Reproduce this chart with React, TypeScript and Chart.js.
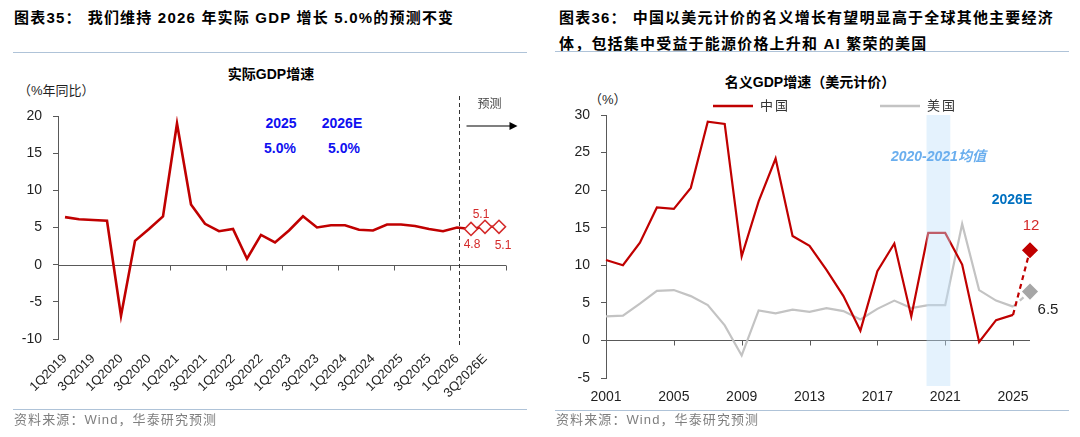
import React, { useEffect, useRef } from 'react';
import { Chart, registerables } from 'chart.js';

Chart.register(...registerables);

const FONT = "'Liberation Sans', Arial, 'Noto Sans CJK SC', sans-serif";

// ---------- Left chart data: real GDP growth (% yoy) ----------
const quarterLabels = [
  '1Q2019', '2Q2019', '3Q2019', '4Q2019',
  '1Q2020', '2Q2020', '3Q2020', '4Q2020',
  '1Q2021', '2Q2021', '3Q2021', '4Q2021',
  '1Q2022', '2Q2022', '3Q2022', '4Q2022',
  '1Q2023', '2Q2023', '3Q2023', '4Q2023',
  '1Q2024', '2Q2024', '3Q2024', '4Q2024',
  '1Q2025', '2Q2025', '3Q2025', '4Q2025',
  '1Q2026', '2Q2026E', '3Q2026E', '4Q2026E',
];
const realGdpGrowth = [
  6.4, 6.1, 6.0, 5.9,
  -6.9, 3.2, 4.8, 6.5,
  19.0, 8.1, 5.5, 4.5,
  4.8, 0.8, 4.0, 3.0,
  4.6, 6.5, 5.0, 5.3,
  5.3, 4.7, 4.6, 5.4,
  5.4, 5.2, 4.8, 4.5,
  5.0, 4.8, 5.1, 5.1,
];
const firstForecastIndex = 29;
const forecastDivider = 28.15;
const annualLabels = ['2025', '2026E'];
const annualGrowth = [5.0, 5.0];

// ---------- Right chart data: nominal GDP growth in USD (%) ----------
const years = [
  '2001', '2002', '2003', '2004', '2005', '2006', '2007', '2008', '2009', '2010',
  '2011', '2012', '2013', '2014', '2015', '2016', '2017', '2018', '2019', '2020',
  '2021', '2022', '2023', '2024', '2025', '2026E',
];
const chinaNominalUsd = [
  10.7, 10.0, 13.0, 17.7, 17.5, 20.3, 29.1, 28.8, 11.2, 18.5,
  24.2, 13.9, 12.6, 9.4, 5.9, 1.3, 9.2, 12.9, 3.2, 14.3,
  14.3, 10.1, -0.2, 2.7, 3.4, 12.0,
];
const usNominalUsd = [
  3.2, 3.3, 4.9, 6.6, 6.7, 5.9, 4.7, 2.0, -2.0, 4.0,
  3.6, 4.1, 3.8, 4.3, 3.9, 2.8, 4.2, 5.3, 4.3, 4.7,
  4.7, 15.5, 6.7, 5.3, 4.5, 6.5,
];
const seriesNames = ['中国', '美国'];
const bandRange = [18.9, 20.3];
const bandLabel = '2020-2021均值';

const RED = '#C00000';
const GRAY = '#C3C3C3';
const AXIS = '#595959';
const TICK_TEXT = '#1f1f1f';

const leftDecor = {
  id: 'leftDecor',
  beforeDatasetsDraw(chart: any) {
    const { ctx, chartArea: a, scales } = chart;
    const x = scales.x;
    const y = scales.y;
    const y0 = Math.round(y.getPixelForValue(0)) + 0.5;
    ctx.save();
    ctx.strokeStyle = AXIS;
    ctx.lineWidth = 1;
    ctx.beginPath();
    ctx.moveTo(a.left, y0);
    ctx.lineTo(a.right, y0);
    for (let i = 0; i <= quarterLabels.length; i += 4) {
      const px = Math.round(x.getPixelForValue(i - 0.5)) + 0.5;
      ctx.moveTo(px, y0);
      ctx.lineTo(px, y0 + 5);
    }
    ctx.stroke();

    const dx = Math.round(x.getPixelForValue(forecastDivider)) + 0.5;
    ctx.strokeStyle = '#333';
    ctx.setLineDash([4, 3]);
    ctx.beginPath();
    ctx.moveTo(dx, a.top - 20);
    ctx.lineTo(dx, a.bottom + 6);
    ctx.stroke();
    ctx.setLineDash([]);

    const ay = a.top + 10;
    ctx.strokeStyle = '#000';
    ctx.lineWidth = 1.2;
    ctx.beginPath();
    ctx.moveTo(dx + 7, ay);
    ctx.lineTo(dx + 51, ay);
    ctx.stroke();
    ctx.fillStyle = '#000';
    ctx.beginPath();
    ctx.moveTo(dx + 58, ay);
    ctx.lineTo(dx + 50, ay - 4);
    ctx.lineTo(dx + 50, ay + 4);
    ctx.closePath();
    ctx.fill();

    ctx.font = `12px ${FONT}`;
    ctx.fillStyle = '#444';
    ctx.textAlign = 'left';
    ctx.textBaseline = 'middle';
    ctx.fillText('预测', dx + 18, a.top - 11);
    ctx.restore();
  },
  afterDatasetsDraw(chart: any) {
    const { ctx } = chart;
    const pts = chart.getDatasetMeta(0).data;
    const offsets = [[1, 16], [-4, -12], [4, 19]];
    ctx.save();
    ctx.font = `12px ${FONT}`;
    ctx.fillStyle = '#D42A2A';
    ctx.textAlign = 'center';
    ctx.textBaseline = 'middle';
    for (let i = firstForecastIndex; i < realGdpGrowth.length; i++) {
      const p = pts[i];
      const o = offsets[i - firstForecastIndex];
      ctx.fillText(realGdpGrowth[i].toFixed(1), p.x + o[0], p.y + o[1]);
    }
    ctx.restore();
  },
};

const rightDecor = {
  id: 'rightDecor',
  beforeDatasetsDraw(chart: any) {
    const { ctx, chartArea: a, scales } = chart;
    const x = scales.x;
    const y = scales.y;
    const y0 = Math.round(y.getPixelForValue(0)) + 0.5;
    ctx.save();
    ctx.strokeStyle = AXIS;
    ctx.lineWidth = 1;
    ctx.beginPath();
    ctx.moveTo(a.left, y0);
    ctx.lineTo(a.right, y0);
    for (let i = 4; i < years.length; i += 4) {
      const px = Math.round(x.getPixelForValue(i)) + 0.5;
      ctx.moveTo(px, y0);
      ctx.lineTo(px, y0 + 5);
    }
    ctx.stroke();
    ctx.restore();
  },
  afterDatasetsDraw(chart: any) {
    const { ctx, chartArea: a, scales } = chart;
    const x = scales.x;
    ctx.save();
    const bx1 = x.getPixelForValue(bandRange[0]);
    const bx2 = x.getPixelForValue(bandRange[1]);
    ctx.fillStyle = 'rgba(190,225,250,0.42)';
    ctx.fillRect(bx1, a.top, bx2 - bx1, a.bottom + 8 - a.top);

    ctx.textAlign = 'center';
    ctx.textBaseline = 'middle';
    ctx.font = `italic bold 14px ${FONT}`;
    ctx.fillStyle = '#6AAEEE';
    ctx.fillText(bandLabel, (bx1 + bx2) / 2, a.top + 42);

    const last = years.length - 1;
    const pc = chart.getDatasetMeta(0).data[last];
    const pu = chart.getDatasetMeta(1).data[last];
    ctx.font = `bold 14px ${FONT}`;
    ctx.fillStyle = '#0070C0';
    ctx.fillText(years[last], pc.x - 18, pc.y - 50);
    ctx.font = `15px ${FONT}`;
    ctx.fillStyle = '#D42A2A';
    ctx.fillText(String(chinaNominalUsd[last]), pc.x + 1, pc.y - 24);
    ctx.fillStyle = '#1f1f1f';
    ctx.fillText(usNominalUsd[last].toFixed(1), pu.x + 18, pu.y + 18);

    // legend
    const legendOffsets = [107, 274];
    ctx.textAlign = 'left';
    ctx.font = `13px ${FONT}`;
    (ctx as any).letterSpacing = '2px';
    chart.data.datasets.forEach((ds: any, i: number) => {
      const lx = a.left + legendOffsets[i];
      const ly = a.top - 9;
      ctx.strokeStyle = ds.borderColor;
      ctx.lineWidth = 2.5;
      ctx.beginPath();
      ctx.moveTo(lx, ly);
      ctx.lineTo(lx + 40, ly);
      ctx.stroke();
      ctx.fillStyle = '#333';
      ctx.fillText(ds.label, lx + 47, ly);
    });
    ctx.restore();
  },
};

function LeftChart() {
  const ref = useRef<HTMLCanvasElement>(null);
  useEffect(() => {
    const chart = new Chart(ref.current as HTMLCanvasElement, {
      type: 'line',
      data: {
        labels: quarterLabels,
        datasets: [
          {
            label: '实际GDP增速',
            data: realGdpGrowth,
            borderColor: RED,
            borderWidth: 2.6,
            tension: 0,
            pointStyle: 'rectRot',
            pointRadius: (c: any) => (c.dataIndex >= firstForecastIndex ? 6.5 : 0),
            pointBackgroundColor: '#fff',
            pointBorderColor: '#D42A2A',
            pointBorderWidth: 1.6,
          },
        ],
      },
      options: {
        animation: false,
        responsive: false,
        devicePixelRatio: 1,
        layout: { padding: { top: 56, right: 34, bottom: 0, left: 0 } },
        plugins: { legend: { display: false }, tooltip: { enabled: false } },
        scales: {
          x: {
            type: 'category',
            offset: true,
            grid: { display: false, drawTicks: false },
            border: { display: false },
            afterFit: (s: any) => { s.height = 71; },
            ticks: {
              autoSkip: false,
              maxRotation: 45,
              minRotation: 45,
              padding: 12,
              color: TICK_TEXT,
              font: { size: 13, family: FONT },
              callback: (_v: any, i: number) => (i % 2 === 0 ? quarterLabels[i] : ''),
            },
          },
          y: {
            min: -10,
            max: 20,
            afterFit: (s: any) => { s.width = 58; },
            grid: { drawOnChartArea: false, drawTicks: true, tickLength: 5, color: AXIS },
            border: { display: true, color: AXIS },
            ticks: { stepSize: 5, padding: 11, color: TICK_TEXT, font: { size: 14, family: FONT } },
          },
        },
      },
      plugins: [leftDecor],
    } as any);
    return () => chart.destroy();
  }, []);
  return <canvas ref={ref} width={540} height={350} style={{ position: 'absolute', left: 0, top: 60 }} />;
}

function RightChart() {
  const ref = useRef<HTMLCanvasElement>(null);
  useEffect(() => {
    const last = years.length - 1;
    const chart = new Chart(ref.current as HTMLCanvasElement, {
      type: 'line',
      data: {
        labels: years,
        datasets: [
          {
            label: seriesNames[0],
            data: chinaNominalUsd,
            borderColor: RED,
            borderWidth: 2.2,
            tension: 0,
            pointStyle: 'rectRot',
            pointRadius: (c: any) => (c.dataIndex === last ? 6.5 : 0),
            pointBackgroundColor: RED,
            pointBorderColor: RED,
            segment: { borderDash: (c: any) => (c.p1DataIndex === last ? [5, 4] : undefined) },
          },
          {
            label: seriesNames[1],
            data: usNominalUsd,
            borderColor: GRAY,
            borderWidth: 2.2,
            tension: 0,
            pointStyle: 'rectRot',
            pointRadius: (c: any) => (c.dataIndex === last ? 6.5 : 0),
            pointBackgroundColor: '#A6A6A6',
            pointBorderColor: '#A6A6A6',
            segment: { borderDash: (c: any) => (c.p1DataIndex === last ? [5, 4] : undefined) },
          },
        ],
      },
      options: {
        animation: false,
        responsive: false,
        devicePixelRatio: 1,
        layout: { padding: { top: 55, right: 50, bottom: 0, left: 0 } },
        plugins: { legend: { display: false }, tooltip: { enabled: false } },
        scales: {
          x: {
            type: 'category',
            offset: false,
            grid: { display: false, drawTicks: false },
            border: { display: false },
            afterFit: (s: any) => { s.height = 32; },
            ticks: {
              autoSkip: false,
              maxRotation: 0,
              minRotation: 0,
              padding: 11,
              color: TICK_TEXT,
              font: { size: 14, family: FONT },
              callback: (_v: any, i: number) => (i % 4 === 0 ? years[i] : ''),
            },
          },
          y: {
            min: -5,
            max: 30,
            afterFit: (s: any) => { s.width = 66; },
            grid: { drawOnChartArea: false, drawTicks: true, tickLength: 5, color: AXIS },
            border: { display: true, color: AXIS },
            ticks: { stepSize: 5, padding: 11, color: TICK_TEXT, font: { size: 14, family: FONT } },
          },
        },
      },
      plugins: [rightDecor],
    } as any);
    return () => chart.destroy();
  }, []);
  return <canvas ref={ref} width={540} height={350} style={{ position: 'absolute', left: 540, top: 60 }} />;
}

function T(props: { x: number; y: number; size: number; children: any; style?: any; center?: boolean }) {
  const lh = Math.round(props.size * 1.4);
  return (
    <div
      style={{
        position: 'absolute',
        left: props.x,
        top: props.y - lh / 2,
        fontSize: props.size,
        lineHeight: `${lh}px`,
        whiteSpace: 'nowrap',
        transform: props.center ? 'translateX(-50%)' : undefined,
        ...props.style,
      }}
    >
      {props.children}
    </div>
  );
}

const titleStyle = { fontWeight: 'bold', letterSpacing: '1.2px', color: '#000' };
const srcStyle = { color: '#7f7f7f', letterSpacing: '1.1px' };
const ruleColor = '#AFC3D8';

export default function App() {
  return (
    <div
      style={{
        position: 'fixed',
        left: 0,
        top: 0,
        width: 1080,
        height: 437,
        background: '#fff',
        overflow: 'hidden',
        fontFamily: FONT,
      }}
    >
      {/* Left panel */}
      <T x={14} y={17} size={15} style={titleStyle}>
        图表35：<span style={{ marginLeft: 6 }}>我们维持 2026 年实际 GDP 增长 5.0%的预测不变</span>
      </T>
      <div style={{ position: 'absolute', left: 13, top: 52, width: 514, height: 1, background: ruleColor }} />
      <T x={271} y={74} size={14} center style={{ fontWeight: 'bold', color: '#000' }}>实际GDP增速</T>
      <T x={18} y={91} size={13} style={{ color: '#1f1f1f' }}>（%年同比）</T>
      {annualLabels.map((lab, i) => (
        <React.Fragment key={lab}>
          <T x={i === 0 ? 281 : 342} y={123} size={14} center style={{ fontWeight: 'bold', color: '#1010F0' }}>{lab}</T>
          <T x={i === 0 ? 280 : 344} y={148} size={14} center style={{ fontWeight: 'bold', color: '#1010F0' }}>{annualGrowth[i].toFixed(1)}%</T>
        </React.Fragment>
      ))}
      <LeftChart />
      <div style={{ position: 'absolute', left: 13, top: 409, width: 514, height: 1, background: ruleColor }} />
      <T x={14} y={420} size={13} style={srcStyle}>资料来源：Wind，华泰研究预测</T>

      {/* Right panel */}
      <T x={559} y={17} size={15} style={titleStyle}>
        图表36：<span style={{ marginLeft: 6 }}>中国以美元计价的名义增长有望明显高于全球其他主要经济</span>
      </T>
      <T x={559} y={43} size={15} style={titleStyle}>体，包括集中受益于能源价格上升和 AI 繁荣的美国</T>
      <div style={{ position: 'absolute', left: 555, top: 51, width: 514, height: 1, background: ruleColor }} />
      <T x={810} y={82} size={14} center style={{ fontWeight: 'bold', color: '#000' }}>名义GDP增速（美元计价）</T>
      <T x={589} y={100} size={13} style={{ color: '#1f1f1f' }}>（%）</T>
      <RightChart />
      <div style={{ position: 'absolute', left: 555, top: 410, width: 514, height: 1, background: ruleColor }} />
      <T x={556} y={420} size={13} style={srcStyle}>资料来源：Wind，华泰研究预测</T>
    </div>
  );
}
